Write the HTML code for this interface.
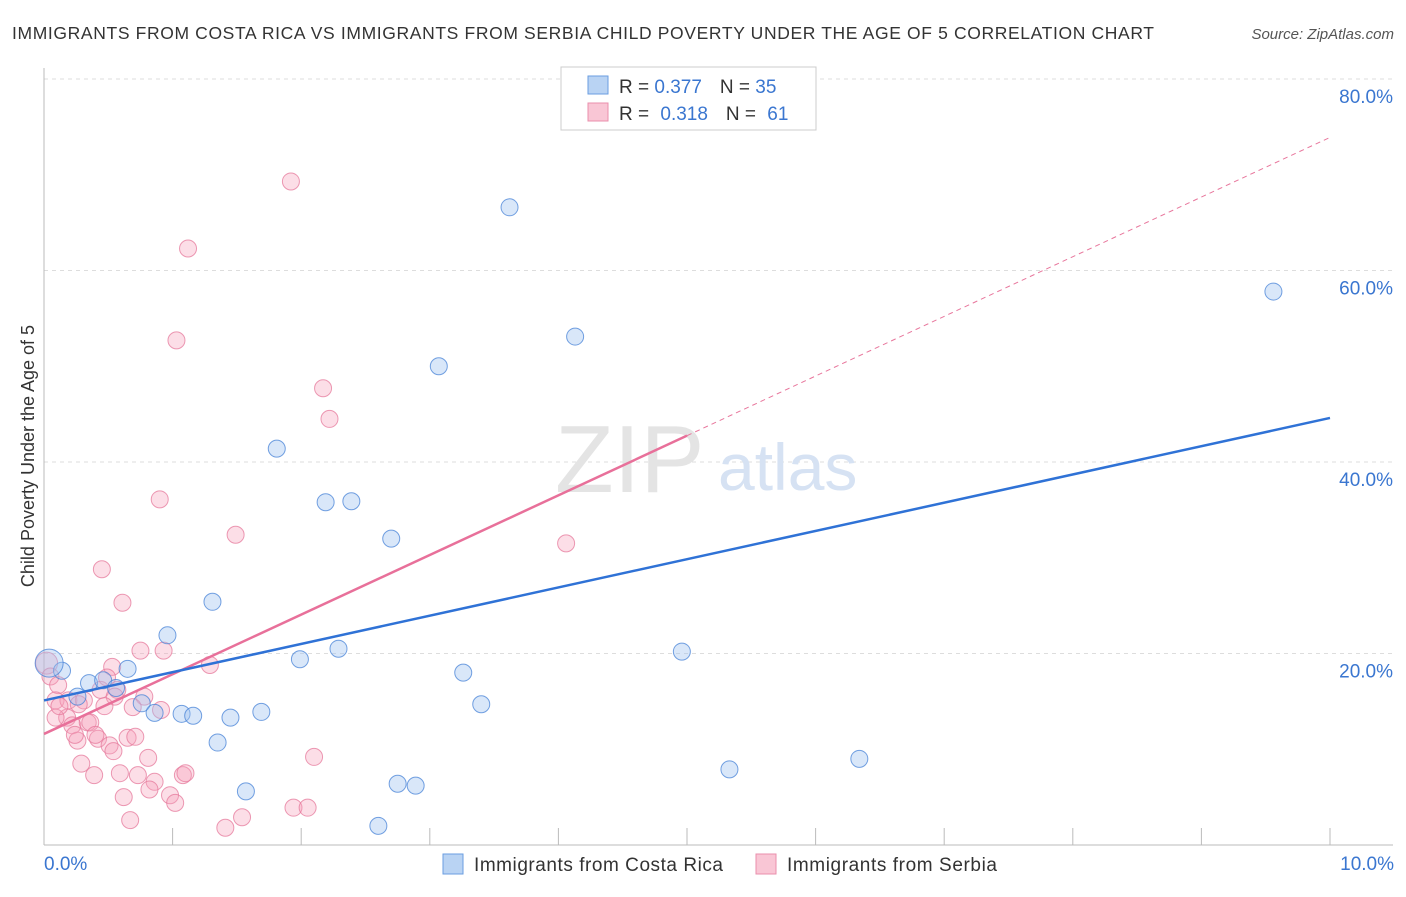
<!DOCTYPE html>
<html><head><meta charset="utf-8"><style>
body{margin:0;background:#fff;font-family:"Liberation Sans",sans-serif;}
svg text{font-family:"Liberation Sans",sans-serif;}
</style></head><body>
<svg id="chart" width="1406" height="892">
<text x="12" y="39" font-size="17.5" fill="#333" textLength="1142" lengthAdjust="spacing">IMMIGRANTS FROM COSTA RICA VS IMMIGRANTS FROM SERBIA CHILD POVERTY UNDER THE AGE OF 5 CORRELATION CHART</text>
<text x="1394" y="39" font-size="15" fill="#555" text-anchor="end" font-style="italic">Source: ZipAtlas.com</text>
<text transform="translate(34,456) rotate(-90)" font-size="18" fill="#333" text-anchor="middle">Child Poverty Under the Age of 5</text>
<g id="grid"></g>
<text x="555" y="492" font-size="96" fill="#e4e4e4" font-family="Liberation Serif">ZIP</text>
<text x="718" y="490" font-size="66" fill="#d6e2f3">atlas</text>
<g id="marks"></g>
<g>
<rect x="561" y="67" width="255" height="63" fill="#fff" stroke="#ccc"/>
<rect x="588" y="76" width="20" height="18" fill="#b9d3f3" stroke="#6a9ee0"/>
<rect x="588" y="103" width="20" height="18" fill="#f9c6d5" stroke="#ea8fac"/>
<text x="619" y="93" font-size="19" fill="#333">R = <tspan fill="#3a76d0">0.377</tspan><tspan dx="18">N = </tspan><tspan fill="#3a76d0">35</tspan></text>
<text x="619" y="120" font-size="19" fill="#333">R = <tspan fill="#3a76d0" dx="6">0.318</tspan><tspan dx="18">N = </tspan><tspan fill="#3a76d0" dx="6">61</tspan></text>
</g>
<g>
<rect x="443" y="854" width="20" height="20" fill="#b9d3f3" stroke="#6a9ee0"/>
<text x="474" y="871" font-size="19" fill="#333" textLength="249">Immigrants from Costa Rica</text>
<rect x="756" y="854" width="20" height="20" fill="#f9c6d5" stroke="#ea8fac"/>
<text x="787" y="871" font-size="19" fill="#333" textLength="210">Immigrants from Serbia</text>
</g>
</svg>
<script>
const blueX=[3.62,9.56,4.13,3.07,1.81,2.19,2.39,2.70,1.31,0.96,4.96,1.99,2.29,3.26,0.65,0.14,0.04,0.35,0.46,0.56,0.26,0.76,0.86,1.07,1.16,1.45,1.69,3.40,1.35,5.33,6.34,1.57,2.75,2.89,2.60];
const blueY=[66.6,57.8,53.1,50.0,41.4,35.8,35.9,32.0,25.4,21.9,20.2,19.4,20.5,18.0,18.4,18.2,19.0,16.9,17.2,16.4,15.5,14.8,13.8,13.7,13.5,13.3,13.9,14.7,10.7,7.9,9.0,5.6,6.4,6.2,2.0];
const pinkX=[1.92,1.12,1.03,2.17,2.22,0.90,1.49,4.06,0.45,0.61,0.75,0.93,1.29,0.53,0.02,0.05,0.11,0.44,0.49,0.57,0.78,0.69,0.55,0.47,0.09,0.19,0.31,0.18,0.09,0.22,0.34,0.26,0.36,0.42,0.65,0.71,0.51,0.29,0.39,0.81,0.59,0.73,0.86,1.08,1.10,0.82,0.98,1.02,0.62,0.67,1.41,1.54,1.94,2.05,2.10,0.27,0.12,0.24,0.40,0.91,0.54];
const pinkY=[69.3,62.3,52.7,47.7,44.5,36.1,32.4,31.5,28.8,25.3,20.3,20.3,18.8,18.6,19.0,17.6,16.7,16.2,17.5,16.2,15.5,14.4,15.5,14.5,15.1,15.1,15.1,13.3,13.3,12.5,12.8,10.9,12.8,11.1,11.2,11.3,10.4,8.5,7.3,9.1,7.5,7.3,6.6,7.3,7.5,5.8,5.2,4.4,5.0,2.6,1.8,2.9,3.9,3.9,9.2,14.7,14.5,11.5,11.5,14.1,9.8];
const blueTrend=[15.1,44.6];
const pinkTrend=[11.6,73.9];
const yTicks=[20,40,60,80];
const xTicks=[0,1,2,3,4,5,6,7,8,9,10];
const NS='http://www.w3.org/2000/svg';
const sx=v=>44+v*128.6, sy=v=>845-v*9.575;
function mk(tag,attrs,parent){const e=document.createElementNS(NS,tag);for(const k in attrs)e.setAttribute(k,attrs[k]);parent.appendChild(e);return e;}
const grid=document.getElementById('grid'), marks=document.getElementById('marks');
yTicks.forEach(t=>{
 const l=mk('line',{x1:44,x2:1393,y1:sy(t),y2:sy(t),stroke:'#ddd','stroke-dasharray':'4,4'},grid);
 
 
 const tx=mk('text',{x:1393,y:sy(t)+24,'font-size':19,fill:'#3a76d0','text-anchor':'end'},grid);
 tx.textContent=t.toFixed(1)+'%';
 
 
});
const ax=mk('line',{x1:44,x2:44,y1:68,y2:845,stroke:'#bbb'},grid);


const bx=mk('line',{x1:44,x2:1393,y1:845,y2:845,stroke:'#bbb'},grid);


xTicks.forEach(t=>{
 const l=mk('line',{x1:sx(t),x2:sx(t),y1:828,y2:845,stroke:'#bbb'},grid);
 
 
});
[[0,'start',44],[10,'end',1394]].forEach(([t,a,x])=>{
 const tx=mk('text',{x:x,y:870,'font-size':19,fill:'#3a76d0','text-anchor':a},grid);
 tx.textContent=t.toFixed(1)+'%';
 
 
});
pinkX.forEach((x,i)=>{
 const c=mk('circle',{cx:sx(x),cy:sy(pinkY[i]),r:i==14?11:8.5,fill:'rgba(245,160,185,0.35)',stroke:'rgba(230,120,155,0.75)','stroke-width':1},marks);
 
 
});
blueX.forEach((x,i)=>{
 const c=mk('circle',{cx:sx(x),cy:sy(blueY[i]),r:i==16?14:8.5,fill:'rgba(160,195,240,0.4)',stroke:'rgba(70,130,215,0.75)','stroke-width':1},marks);
 
 
});
const pm=pinkTrend[0]+(pinkTrend[1]-pinkTrend[0])*0.5;
const pd=mk('line',{x1:sx(5),y1:sy(pm),x2:sx(10),y2:sy(pinkTrend[1]),stroke:'#e8769c','stroke-width':1,'stroke-dasharray':'5,4'},marks);


const pl=mk('line',{x1:sx(0),y1:sy(pinkTrend[0]),x2:sx(5),y2:sy(pm),stroke:'#e8709a','stroke-width':2.5},marks);


const bl=mk('line',{x1:sx(0),y1:sy(blueTrend[0]),x2:sx(10),y2:sy(blueTrend[1]),stroke:'#2f72d6','stroke-width':2.5},marks);


</script>
</body></html>
